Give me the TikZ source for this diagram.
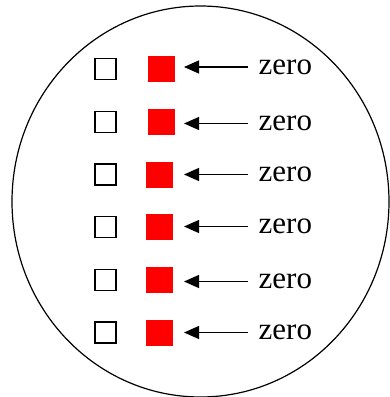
\documentclass[tikz,border=0pt]{standalone}
\usepackage{fontspec}
\setmainfont{Liberation Serif}
\usetikzlibrary{arrows.meta,shapes.geometric}
\begin{document}
\begin{tikzpicture}[x=1pt,y=-1pt,
  hollow/.style={draw=black,line width=1.2pt,minimum size=21pt,inner sep=0pt},
  redsq/.style={fill=red,minimum width=27pt,minimum height=26pt,inner sep=0pt},
  lbl/.style={font=\fontsize{31}{31}\selectfont,anchor=west,inner sep=0pt},
  ptr/.style={-{Triangle[length=15pt,width=13pt]},line width=1.1pt}]
\useasboundingbox (0,0) rectangle (389,397);
\node[draw=black,line width=1.2pt,ellipse,minimum width=377pt,minimum height=391pt,inner sep=0pt] (c) at (200.5,201.5) {};
\foreach \i/\y/\rx/\ay in {1/69/161.5/67,2/122/161.5/123.5,3/174.5/159/174.5,4/227/159/226.5,5/280/159/281.5,6/332.5/159/332.5}{
  \node[hollow] (h\i) at (105.5,\y) {};
  \node[redsq] (r\i) at (\rx,\y) {};
  \node[lbl] (z\i) at (258.5,\ay) {zero};
  \coordinate (s\i) at (248,\ay);
  \coordinate (t\i) at (184,\ay);
  \draw[ptr] (s\i) -- (t\i);
}
\end{tikzpicture}
\end{document}
